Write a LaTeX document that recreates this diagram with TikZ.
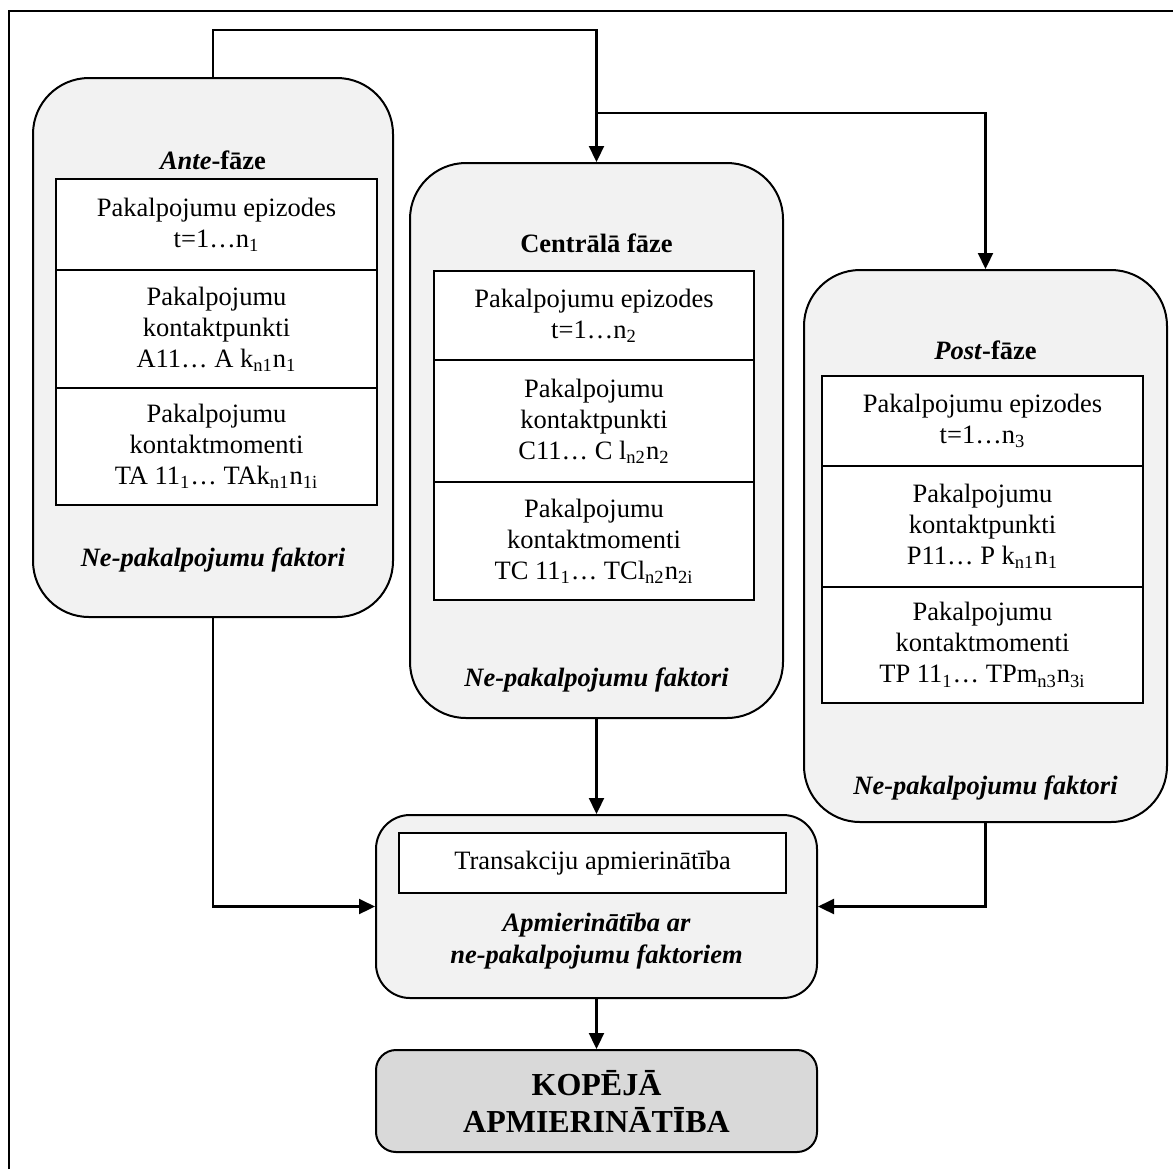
\documentclass[tikz,border=0pt]{standalone}
\usepackage{fontspec}
\setmainfont{Liberation Serif}
\usetikzlibrary{arrows.meta}
\definecolor{phasefill}{HTML}{F2F2F2}
\definecolor{totalfill}{HTML}{D9D9D9}
\newcommand{\subx}[1]{\textsubscript{#1}}
\begin{document}
\begin{tikzpicture}[x=0.5pt,y=-0.5pt,
  txt/.style={font=\fontsize{13.25}{15.5}\selectfont, align=center, inner sep=0pt},
  phase/.style={draw, line width=1pt, fill=phasefill, rounded corners=28pt, inner sep=0pt},
  cell/.style={draw, line width=1pt, fill=white, txt},
  link/.style={line width=1.1pt},
  arr/.style={link, -{Triangle[length=8pt,width=7.5pt]}},
  ]
\useasboundingbox (0,0) rectangle (1173,1169);
% page frame
\draw[line width=1pt] (9,1169) -- (9,11) -- (1173,11);

% phase containers
\node[phase, minimum width=180pt, minimum height=269.5pt] (ante) at (213,347.5) {};
\node[phase, minimum width=186.5pt, minimum height=277.5pt] (central) at (596.5,440.5) {};
\node[phase, minimum width=181.5pt, minimum height=276pt] (post) at (985.5,546) {};
\node[phase, rounded corners=17pt, minimum width=220.5pt, minimum height=91.5pt] (sat) at (596.5,906.5) {};
\node[draw, line width=1pt, fill=totalfill, rounded corners=10pt, minimum width=220.5pt, minimum height=51pt,
      align=center, inner sep=0pt, font=\fontsize{16}{18.5}\selectfont\bfseries] (total) at (596.5,1101)
      {KOPĒJĀ\\APMIERINĀTĪBA};

% Ante phase
\node[txt, font=\fontsize{13.25}{15.5}\selectfont\bfseries] (anteT) at (213,160) {\textit{Ante}-fāze};
\node[cell, minimum width=160.5pt, minimum height=45.5pt] (a1) at (216.5,224.5) {Pakalpojumu epizodes\\t=1…n\subx{1}};
\node[cell, minimum width=160.5pt, minimum height=59pt] (a2) at (216.5,329) {Pakalpojumu\\kontaktpunkti\\A11… A k\subx{n1}n\subx{1}};
\node[cell, minimum width=160.5pt, minimum height=58.5pt] (a3) at (216.5,446.5) {Pakalpojumu\\kontaktmomenti\\TA 11\subx{1}… TAk\subx{n1}n\subx{1i}};
\node[txt, font=\fontsize{13.25}{15.5}\selectfont\bfseries\itshape] (anteF) at (213,560) {Ne-pakalpojumu faktori};

% Central phase
\node[txt, font=\fontsize{13.25}{15.5}\selectfont\bfseries] (centralT) at (596.5,243) {Centrālā fāze};
\node[cell, minimum width=160pt, minimum height=44.5pt] (c1) at (594,315.5) {Pakalpojumu epizodes\\t=1…n\subx{2}};
\node[cell, minimum width=160pt, minimum height=61pt] (c2) at (594,421) {Pakalpojumu\\kontaktpunkti\\C11… C l\subx{n2}n\subx{2}};
\node[cell, minimum width=160pt, minimum height=59pt] (c3) at (594,541) {Pakalpojumu\\kontaktmomenti\\TC 11\subx{1}… TCl\subx{n2}n\subx{2i}};
\node[txt, font=\fontsize{13.25}{15.5}\selectfont\bfseries\itshape] (centralF) at (596.5,680) {Ne-pakalpojumu faktori};

% Post phase
\node[txt, font=\fontsize{13.25}{15.5}\selectfont\bfseries] (postT) at (985.5,350) {\textit{Post}-fāze};
\node[cell, minimum width=160.5pt, minimum height=45pt] (p1) at (982.5,421) {Pakalpojumu epizodes\\t=1…n\subx{3}};
\node[cell, minimum width=160.5pt, minimum height=60.5pt] (p2) at (982.5,526.5) {Pakalpojumu\\kontaktpunkti\\P11… P k\subx{n1}n\subx{1}};
\node[cell, minimum width=160.5pt, minimum height=58pt] (p3) at (982.5,645) {Pakalpojumu\\kontaktmomenti\\TP 11\subx{1}… TPm\subx{n3}n\subx{3i}};
\node[txt, font=\fontsize{13.25}{15.5}\selectfont\bfseries\itshape] (postF) at (985.5,788) {Ne-pakalpojumu faktori};

% satisfaction box
\node[cell, minimum width=193.5pt, minimum height=30pt] (trans) at (592.5,863) {Transakciju apmierinātība};
\node[txt, font=\fontsize{13.25}{16}\selectfont\bfseries\itshape] (satF) at (596.5,941) {Apmierinātība ar\\ne-pakalpojumu faktoriem};

% connectors
\coordinate (topbend) at (213,30);
\coordinate (branch) at (596.5,113);
\draw[arr] (ante.north) -- (topbend) -| (central.north);
\draw[arr] (branch) -| (post.north);
\draw[arr] (ante.south) |- (sat.west);
\draw[arr] (central.south) -- (sat.north);
\draw[arr] (post.south) |- (sat.east);
\draw[arr] (sat.south) -- (total.north);
\end{tikzpicture}
\end{document}
